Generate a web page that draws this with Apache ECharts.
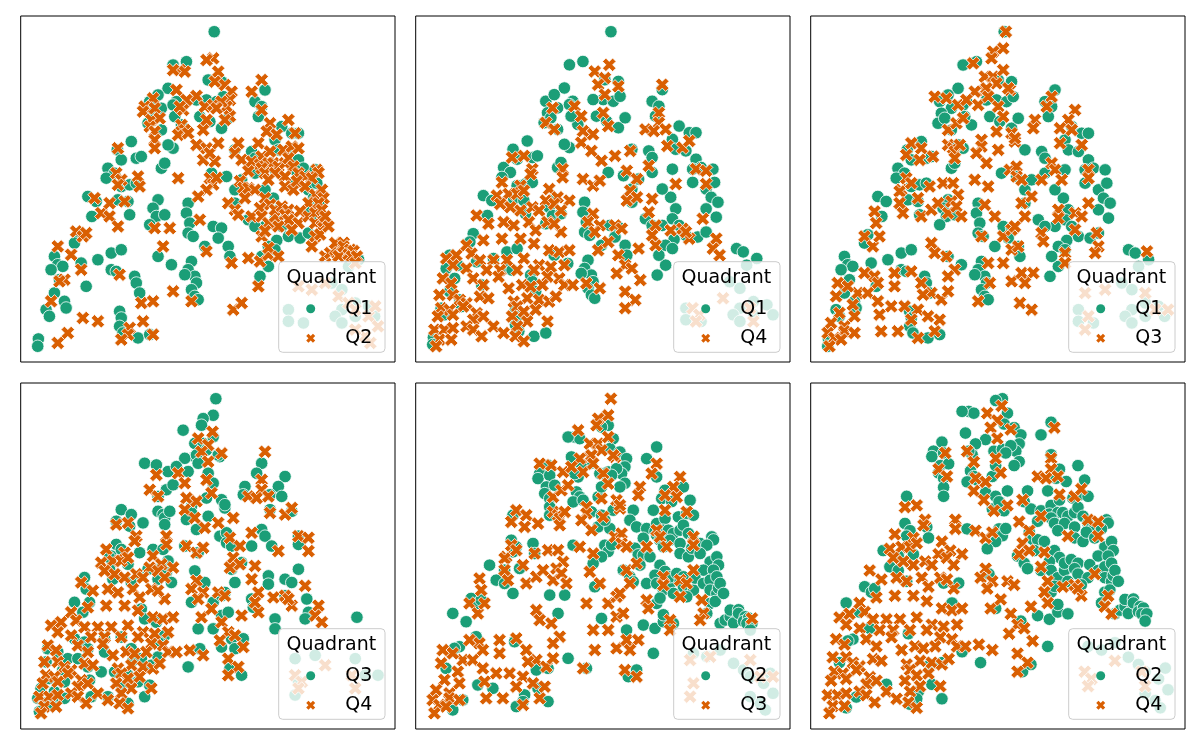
<!DOCTYPE html>
<html>
<head>
<meta charset="utf-8">
<script src="https://cdn.jsdelivr.net/npm/echarts@6/dist/echarts.min.js"></script>
<style>html,body{margin:0;padding:0;background:#fff}#chart{width:1200px;height:750px}</style>
</head>
<body>
<div id="chart"></div>
<script>
// embedding coordinates (y grows downward)
const Q1 = [
  [578,45],[455,145],[495,135],[560,190],[600,195],[440,215],[465,255],[420,275],[455,265],[555,250],[585,255],[605,240],[525,250],[385,255],[410,235],[390,290],
  [535,300],[565,315],[600,335],[620,305],[700,255],[730,220],[720,270],[710,300],[480,325],[380,320],[420,340],[400,305],[460,300],[455,395],[440,385],[330,375],[345,425],[360,420],[288,400],[300,430],
  [260,455],[280,470],[255,485],[300,510],[325,505],[345,500],[420,455],[430,440],[200,540],[225,555],[290,550],[320,555],[325,595],[410,550],[395,575],[405,600],[430,595],[385,625],
  [500,560],[495,590],[505,620],[500,650],[515,660],[575,630],[600,635],[590,665],[550,690],[620,690],[212,600],[170,655],[160,680],[100,720],[110,745],[125,750],[90,760],[115,790],[180,740],
  [230,730],[270,710],[300,700],[270,760],[285,765],[410,720],[450,745],[510,735],[500,760],[520,780],[525,800],[510,820],[520,840],[530,850],[490,775],[340,780],[345,800],[355,830],[195,810],
  [130,855],[135,875],[100,830],[75,880],[85,900],[295,885],[300,905],[295,930],[305,950],[350,965],[385,955],[52,968],[50,990],
  [615,480],[640,520],[640,560],[660,490],[570,470],[755,545],[770,580],[760,610],[730,630],[780,630],[800,660],[765,672],[740,690],[760,700],[740,750],[715,780],[625,720],[680,610],[700,630],[720,720],[835,665],[860,650],
  [760,370],[780,330],[770,400],[810,350],[830,350],[800,405],[690,405],[700,425],[640,400],[830,430],[845,455],[820,460],[700,470],[760,460],[730,520],[820,500],[860,520],[875,545],[895,560],[860,580],[885,500],[880,460],[890,605],
  [950,700],[970,710],[1010,730],[980,750],[930,800],[960,820],[1000,860],[1040,870],[960,880],[1000,900],[1058,900],[940,900],[960,920],[800,880],[800,915],[845,920]
];
const Q2 = [
  [575,125],[555,130],[475,160],[490,165],[455,160],[590,165],[580,195],[610,205],[630,225],[625,250],[615,270],[720,190],[690,225],[465,220],[525,238],[495,250],[485,280],[475,270],[550,270],[575,265],[600,255],[585,275],
  [395,245],[370,270],[365,285],[400,275],[390,310],[415,305],[385,330],[400,345],[400,370],[480,325],[490,340],[470,355],[500,350],[545,340],[555,310],[625,299],[525,385],[555,395],[545,430],[580,435],[565,410],[590,380],[610,310],
  [720,280],[745,320],[735,345],[765,354],[800,310],[820,350],[650,380],[640,410],[660,430],[690,435],[710,380],[720,420],[715,444],[745,405],[740,440],[755,440],[770,450],[785,400],[790,440],[810,390],[830,395],[800,425],[815,450],[830,470],[850,480],
  [720,455],[730,470],[760,470],[740,490],[680,464],[655,494],[665,514],[680,515],[700,520],[670,545],[730,545],[745,564],[790,480],[790,510],[815,520],[825,494],[885,460],[890,469],[870,485],[850,510],[880,535],[900,520],[905,545],[860,560],[890,560],
  [620,560],[640,580],[650,595],[690,600],[715,575],[720,600],[740,620],[760,600],[760,580],[780,570],[800,580],[790,595],[800,610],[830,620],[835,584],[810,640],[770,630],[720,660],[730,644],[860,600],[880,590],[880,620],[900,630],[905,614],[880,660],[895,654],[870,690],[900,580],[910,600],[920,630],
  [565,485],[575,504],[585,484],[555,520],[530,540],[535,610],[470,485],[400,395],[290,395],[285,470],[300,490],[290,505],[350,480],[355,510],[310,555],[220,545],[240,590],[265,600],[265,560],[290,630],[400,635],[445,635],
  [165,645],[185,660],[195,650],[110,690],[150,715],[180,760],[130,790],[115,795],[425,690],[555,705],[630,740],[680,725],[715,735],[740,715],[740,694],[770,720],[295,775],[455,825],[510,855],[710,810],[635,880],[660,860],
  [360,860],[395,855],[90,855],[185,905],[230,915],[140,950],[110,980],[365,915],[325,935],[320,955],[300,970],[395,955],
  [910,720],[925,710],[940,700],[940,680],[965,679],[960,710],[950,719],[965,690],[985,700],[980,714],[995,704],[990,720],[1005,720],[1000,740],
  [830,810],[870,820],[910,800],[950,840],[980,860],[1000,880],[1040,900],[1068,930],[1030,960],[1045,980],[1000,940],[1060,870]
];
const Q3 = [
  [583,45],[575,95],[545,105],[540,125],[485,140],[520,180],[545,180],[575,160],[555,200],[595,220],[520,220],[490,225],[525,215],[590,215],[500,265],[530,240],[370,240],[405,245],[440,265],[465,250],
  [410,340],[435,320],[455,305],[560,270],[575,300],[555,345],[600,350],[610,375],[720,240],[705,270],[790,280],[770,310],[745,335],[780,340],[670,310],[665,335],[810,385],[745,380],
  [300,380],[330,395],[285,415],[365,420],[325,430],[410,385],[425,395],[430,405],[445,385],[430,425],[510,370],[510,390],[495,410],[525,440],[560,400],[610,365],
  [720,440],[730,460],[750,490],[830,460],[830,485],[595,460],[615,450],[615,480],[630,490],[690,490],
  [270,520],[265,525],[285,485],[300,500],[355,510],[320,545],[265,560],[275,590],[330,600],[360,580],[380,560],[395,500],[425,500],[440,535],[420,555],[410,590],[435,570],[450,600],[490,490],[530,510],
  [520,565],[550,600],[575,660],[600,640],[610,630],[510,660],[630,560],[640,600],[660,540],[740,580],[740,605],[790,590],[810,600],[830,560],[790,640],[690,650],[855,650],[860,690],[850,710],[695,675],
  [190,585],[195,620],[160,660],[185,690],[205,660],[360,680],[370,710],[405,720],[430,760],[410,780],[160,770],[190,780],[200,800],[140,830],[170,830],[80,800],[110,810],[75,840],
  [250,770],[300,765],[250,810],[330,800],[360,830],[335,835],[390,850],[410,825],[240,870],[280,870],[320,880],[300,910],[350,900],[125,865],[200,855],[205,895],
  [85,890],[60,920],[50,950],[100,930],[100,945],[130,950],[70,965],[90,970],[55,990],[130,900],[210,945],[260,945],[320,965],[370,945],[385,910],
  [500,855],[535,800],[600,795],[630,770],[665,770],[640,800],[625,860],[660,880],[760,710],[760,740],[530,740],[575,740],[600,700],[620,690],
  [1005,705],[820,830],[880,820],[830,900],[1000,830],[1030,880],[1068,880],[820,940]
];
const Q4 = [
  [573,145],[530,165],[560,185],[540,205],[600,210],[560,235],[730,205],[720,290],[720,320],[405,275],[470,270],[385,320],[410,340],[490,300],[495,345],[490,380],[525,355],[520,405],[555,290],[570,330],
  [550,435],[590,420],[635,405],[680,340],[705,345],[740,340],[745,390],[790,395],[810,375],[830,460],[860,465],[860,505],[690,450],
  [285,425],[320,420],[345,460],[435,460],[625,465],[655,490],[635,525],[625,555],[655,545],[700,550],[690,590],[770,505],
  [255,500],[310,510],[340,475],[435,485],[495,490],[525,510],[545,495],
  [240,540],[275,535],[300,535],[320,525],[395,520],[385,555],[420,545],[455,555],
  [250,565],[280,575],[310,585],[345,575],[365,585],[410,565],[430,585],
  [180,600],[215,625],[260,620],[290,630],[335,620],[355,645],[390,620],[430,650],[410,625],
  [525,595],[545,630],[510,620],[530,650],
  [150,690],[200,675],[255,670],[310,670],[350,685],[395,705],[425,710],[455,705],[540,705],
  [90,730],[120,720],[165,715],[190,735],[230,735],[270,735],[320,730],[365,750],[400,755],[440,750],
  [110,750],[150,760],[210,765],[250,765],[300,765],[350,765],[390,785],[425,790],
  [80,790],[105,805],[170,790],[200,810],[245,785],[275,820],[315,810],[340,815],[375,810],[440,810],[465,810],[505,805],[545,820],
  [70,840],[110,840],[130,855],[150,865],[190,845],[215,850],[290,860],[330,850],[365,855],[395,860],[415,845],
  [75,880],[100,885],[140,875],[180,895],[300,875],[320,890],[355,885],
  [65,905],[110,900],[170,915],[200,905],[285,905],[330,920],[390,920],
  [55,945],[85,945],[110,940],[150,935],[170,945],[230,935],[300,935],
  [70,975],[60,995],[105,975],[195,965],[260,955],[295,965],[320,980],
  [590,630],[610,640],[570,680],[600,720],[620,750],[640,760],[660,700],[710,690],[710,630],[700,660],
  [755,645],[790,640],[810,670],[800,650],[850,610],[890,670],[880,700],[900,720],
  [595,775],[665,795],[620,830],[650,855],[620,880],
  [820,880],[840,900],[830,920],[910,850],[990,880],[1000,920]
];

const panelPairs = [['Q1', 'Q2'], ['Q1', 'Q4'], ['Q1', 'Q3'], ['Q3', 'Q4'], ['Q2', 'Q3'], ['Q2', 'Q4']];
const legendTitle = 'Quadrant';

const sets = { Q1, Q2, Q3, Q4 };
const GREEN = '#1b9e77';
const ORANGE = '#d95f02';
const X_PATH = 'path://M15,0L20,5L15,10L20,15L15,20L10,15L5,20L0,15L5,10L0,5L5,0L10,5Z';
const FONT = 'DejaVu Sans';

const colLeft = [20.7, 415.7, 810.7];
const rowTop = [16, 383];
const W = 374.3;
const H = 346;

// matplotlib style autoscale: data range plus 5% each side
function limits(a, b, k) {
    const v = a.concat(b).map(p => p[k]);
    const lo = Math.min(...v);
    const hi = Math.max(...v);
    const pad = (hi - lo) * 0.05;
    return [lo - pad, hi + pad];
}

const grid = [], xAxis = [], yAxis = [], series = [], legend = [], graphic = [];

panelPairs.forEach(([a, b], i) => {
    const gl = colLeft[i % 3];
    const gt = rowTop[Math.floor(i / 3)];
    const xl = limits(sets[a], sets[b], 0);
    const yl = limits(sets[a], sets[b], 1);

    grid.push({ left: gl, top: gt, width: W, height: H, show: true, borderColor: '#000', borderWidth: 1, backgroundColor: 'transparent' });
    xAxis.push({ gridIndex: i, type: 'value', min: xl[0], max: xl[1], show: false });
    yAxis.push({ gridIndex: i, type: 'value', min: yl[0], max: yl[1], inverse: true, show: false });

    series.push({
        type: 'scatter', name: a, xAxisIndex: i, yAxisIndex: i, data: sets[a],
        symbol: 'circle', symbolSize: 12.5, silent: true,
        itemStyle: { color: GREEN, borderColor: '#fff', borderWidth: 0.8, opacity: 1 },
    });
    series.push({
        type: 'scatter', name: b, xAxisIndex: i, yAxisIndex: i, data: sets[b],
        symbol: X_PATH, symbolSize: 13.5, silent: true,
        itemStyle: { color: ORANGE, borderColor: '#fff', borderWidth: 0.8, opacity: 1 },
    });

    // legend frame + title
    graphic.push({
        type: 'rect', z: 10, silent: true,
        shape: { x: gl + 258, y: gt + 245.7, width: 106.3, height: 90.6, r: 4 },
        style: { fill: 'rgba(255,255,255,0.8)', stroke: '#cccccc', lineWidth: 1 },
    });
    graphic.push({
        type: 'text', z: 21, silent: true, x: gl + 310.6, y: gt + 262.3,
        style: { text: legendTitle, fill: '#000', fontSize: 19, fontFamily: FONT, align: 'center', verticalAlign: 'middle', textAlign: 'center', textVerticalAlign: 'middle' },
    });

    legend.push({
        orient: 'vertical', left: gl + 285.5, top: gt + 282.8, padding: 0,
        itemWidth: 9, itemHeight: 9, itemGap: 9.4, selectedMode: false, z: 20,
        textStyle: { fontFamily: FONT, fontSize: 19, color: '#000', lineHeight: 20, padding: [0, 0, 0, 25] },
        data: [
            { name: a, icon: 'circle', itemStyle: { color: GREEN, borderWidth: 0 } },
            { name: b, icon: X_PATH, itemStyle: { color: ORANGE, borderWidth: 0 } },
        ],
    });
});

const chart = echarts.init(document.getElementById('chart'));
chart.setOption({
    animation: false,
    backgroundColor: '#fff',
    grid, xAxis, yAxis, series, legend, graphic,
});
</script>
</body>
</html>
